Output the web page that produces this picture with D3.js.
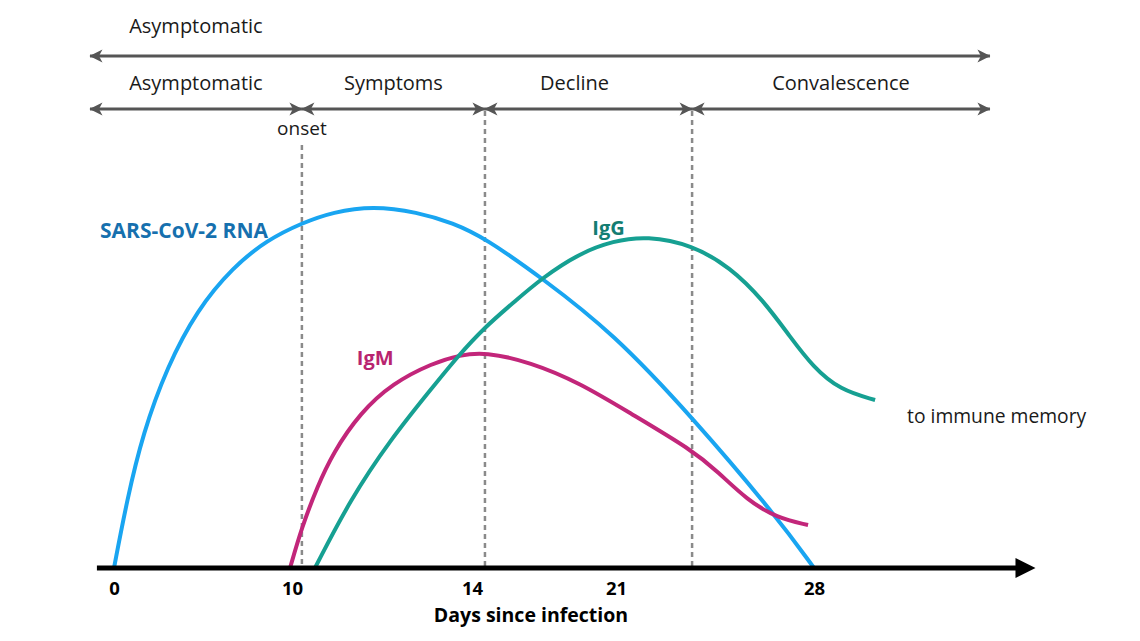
<!DOCTYPE html>
<html>
<head>
<meta charset="utf-8">
<script src="https://cdn.jsdelivr.net/npm/d3@7"></script>
<style>
  body { margin: 0; background: #fff; }
  svg { display: block; }
  text { font-family: "Open Sans", "Noto Sans", sans-serif; }
</style>
</head>
<body>
<svg id="chart" width="1140" height="641"></svg>
<script>
// ---------------- data ----------------
const tickDays = [0, 10, 14, 21, 28];
const tickLabels = ["0", "10", "14", "21", "28"];

const overallPhase = "Asymptomatic";
const phaseNames = ["Asymptomatic", "Symptoms", "Decline", "Convalescence"];
const phaseStarts = [-1.35, 10.22, 14.63, 23.69];
const phaseEnds = [10.22, 14.63, 23.69, 34.22];
const onsetLabel = "onset";

const rnaDays  = [0, 0.73, 1.63, 2.98, 4.66, 6.69, 8.60, 10.22, 10.91, 11.80, 12.78, 13.58, 14.63, 17.40, 20.85, 23.69, 26.69, 28];
const rnaLevel = [0, 17, 33.75, 50.25, 64.5, 75.25, 82, 86.25, 89, 90.5, 89, 86.25, 82.5, 72.5, 58.75, 37.75, 12.75, 0];

const igmDays  = [9.89, 10.22, 10.56, 10.91, 11.51, 12.24, 13.13, 13.73, 14.63, 16.82, 19.25, 21.49, 23.69, 24.61, 25.64, 26.69, 27.79];
const igmLevel = [0, 10.25, 20.25, 28.75, 38.75, 46.25, 51.25, 53.25, 54, 51.5, 46.25, 38.75, 29.5, 24, 17, 12.5, 10.75];

const iggDays  = [10.51, 11.29, 12.18, 13.13, 13.67, 14.63, 15.99, 17.40, 19.25, 20.85, 22.10, 23.69, 25.03, 26.20, 27.16, 27.97, 28.92, 30.16];
const iggLevel = [0, 17, 32, 45.25, 52.75, 60.25, 66.25, 72.5, 78.75, 81.75, 83, 80.75, 75.25, 67, 57.75, 50.25, 44.5, 42];

const seriesNames = ["SARS-CoV-2 RNA", "IgM", "IgG"];
const axisTitle = "Days since infection";
const memoryNote = "to immune memory";

// ---------------- layout ----------------
const svg = d3.select("#chart");
svg.append("rect").attr("width", 1140).attr("height", 641).attr("fill", "#fff");

// schematic (piecewise) day scale
const x = d3.scaleLinear().domain(tickDays).range([114, 292, 472, 616, 814]);
const y = d3.scaleLinear().domain([0, 100]).range([568, 168]);

const defs = svg.append("defs");
defs.append("marker")
  .attr("id", "head")
  .attr("viewBox", "-14 -8 16 16")
  .attr("refX", 0).attr("refY", 0)
  .attr("markerWidth", 16).attr("markerHeight", 16)
  .attr("markerUnits", "userSpaceOnUse")
  .attr("orient", "auto-start-reverse")
  .append("path")
  .attr("d", "M0.5,0 L-12.5,-6.5 L-9,0 L-12.5,6.5 Z")
  .attr("fill", "#555");

// phase arrows
const arrowColor = "#555";
const row1 = 56, row2 = 109;

svg.append("line")
  .attr("x1", x(phaseStarts[0])).attr("x2", x(phaseEnds[phaseEnds.length - 1]))
  .attr("y1", row1).attr("y2", row1)
  .attr("stroke", arrowColor).attr("stroke-width", 2.8)
  .attr("marker-start", "url(#head)").attr("marker-end", "url(#head)");

svg.append("text")
  .attr("x", (x(phaseStarts[0]) + x(phaseEnds[0])) / 2)
  .attr("y", 33)
  .attr("text-anchor", "middle")
  .attr("font-size", 20)
  .attr("fill", "#1a1a1a")
  .text(overallPhase);

const phases = phaseNames.map((n, i) => ({ name: n, s: phaseStarts[i], e: phaseEnds[i] }));

svg.selectAll("line.phase").data(phases).join("line")
  .attr("class", "phase")
  .attr("x1", d => x(d.s)).attr("x2", d => x(d.e))
  .attr("y1", row2).attr("y2", row2)
  .attr("stroke", arrowColor).attr("stroke-width", 2.8)
  .attr("marker-start", "url(#head)").attr("marker-end", "url(#head)");

svg.selectAll("text.phase").data(phases).join("text")
  .attr("class", "phase")
  .attr("x", d => (x(d.s) + x(d.e)) / 2)
  .attr("dx", d => d.name === "Decline" ? -14 : 0)
  .attr("y", 90)
  .attr("text-anchor", "middle")
  .attr("font-size", 20)
  .attr("fill", "#1a1a1a")
  .text(d => d.name);

svg.append("text")
  .attr("x", x(phaseStarts[1]))
  .attr("y", 135)
  .attr("text-anchor", "middle")
  .attr("font-size", 19)
  .attr("fill", "#1a1a1a")
  .text(onsetLabel);

// dashed phase boundaries
svg.selectAll("line.bound").data(phaseStarts.slice(1)).join("line")
  .attr("class", "bound")
  .attr("x1", d => x(d)).attr("x2", d => x(d))
  .attr("y1", (d, i) => i === 0 ? 145 : row2 + 2)
  .attr("y2", y(0))
  .attr("stroke", "#8a8a8a").attr("stroke-width", 2.5)
  .attr("stroke-dasharray", "5,4");

// curves
const line = d3.line()
  .x(d => x(d[0])).y(d => y(d[1]))
  .curve(d3.curveBasis);

const series = [
  { days: rnaDays, level: rnaLevel, color: "#19a5f1" },
  { days: igmDays, level: igmLevel, color: "#c2267a" },
  { days: iggDays, level: iggLevel, color: "#16a092" }
];

svg.selectAll("path.curve").data(series).join("path")
  .attr("class", "curve")
  .attr("d", s => line(s.days.map((d, i) => [d, s.level[i]])))
  .attr("fill", "none")
  .attr("stroke", s => s.color)
  .attr("stroke-width", 4)
  .attr("stroke-linecap", "butt");

// series labels
svg.append("text").attr("x", x(8.65)).attr("y", y(82.6))
  .attr("text-anchor", "end").attr("font-size", 21).attr("font-weight", 700)
  .attr("fill", "#1670ae").text(seriesNames[0]);
svg.append("text").attr("x", x(11.44)).attr("y", y(50.8))
  .attr("text-anchor", "start").attr("font-size", 20).attr("font-weight", 700)
  .attr("fill", "#b8246f").text(seriesNames[1]);
svg.append("text").attr("x", x(19.85)).attr("y", y(83.3))
  .attr("text-anchor", "start").attr("font-size", 20).attr("font-weight", 700)
  .attr("fill", "#137d72").text(seriesNames[2]);

svg.append("text").attr("x", x(31.29)).attr("y", y(36.3))
  .attr("text-anchor", "start").attr("font-size", 19.3)
  .attr("fill", "#1a1a1a").text(memoryNote);

// x axis
const axisStart = -0.96, axisEnd = 35.83;
const axisY = y(0);
svg.append("line")
  .attr("x1", x(axisStart)).attr("x2", x(axisEnd) - 18)
  .attr("y1", axisY).attr("y2", axisY)
  .attr("stroke", "#000").attr("stroke-width", 5);
svg.append("path")
  .attr("d", d3.line()([[x(axisEnd), axisY], [x(axisEnd) - 20, axisY - 10], [x(axisEnd) - 20, axisY + 10]]) + "Z")
  .attr("fill", "#000");

const ax = svg.append("g")
  .attr("transform", `translate(0,${axisY})`)
  .call(d3.axisBottom(x).tickValues(tickDays).tickFormat((d, i) => tickLabels[i]).tickSize(0).tickPadding(14));
ax.select(".domain").remove();
ax.selectAll("text")
  .attr("font-family", '"Open Sans", sans-serif')
  .attr("font-size", 18.5).attr("font-weight", 700).attr("fill", "#000");

svg.append("text")
  .attr("x", 531).attr("y", 622)
  .attr("text-anchor", "middle")
  .attr("font-size", 19.5).attr("font-weight", 700)
  .attr("fill", "#000")
  .text(axisTitle);
</script>
</body>
</html>
